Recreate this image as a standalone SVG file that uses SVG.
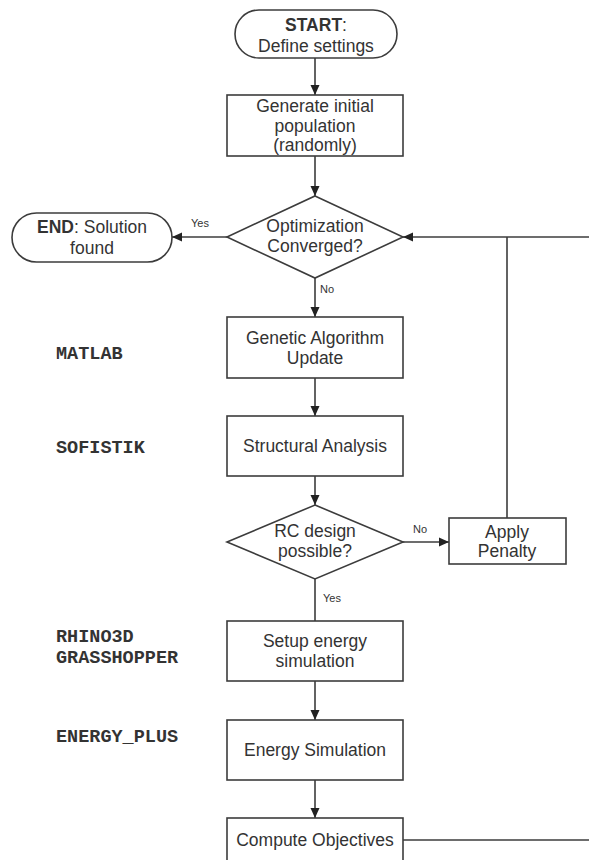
<svg xmlns="http://www.w3.org/2000/svg" width="589" height="860" viewBox="0 0 589 860">
  <style>
    .shape { fill: #ffffff; stroke: #3c3c3c; stroke-width: 1.6; }
    .wire { fill: none; stroke: #3c3c3c; stroke-width: 1.6; }
    .lbl { font-family: "Liberation Sans", Arial, Helvetica, sans-serif; font-size: 17.5px; fill: #333333; text-anchor: middle; }
    .b { font-weight: bold; }
    .tag { font-family: "Liberation Sans", Arial, sans-serif; font-size: 11px; fill: #333333; }
    .tool { font-family: "Liberation Mono", "Courier New", monospace; font-size: 18.5px; font-weight: bold; fill: #333333; }
  </style>
  <defs>
    <marker id="arrow" viewBox="0 0 10 10" refX="10" refY="5" markerWidth="10" markerHeight="10" markerUnits="userSpaceOnUse" orient="auto">
      <path d="M0,0.5 L10,5 L0,9.5 Z" fill="#222222"/>
    </marker>
  </defs>
  <rect width="589" height="860" fill="#ffffff"/>

  <!-- connectors -->
  <g id="connectors">
    <line class="wire" x1="315" y1="58" x2="315" y2="95" marker-end="url(#arrow)"/>
    <line class="wire" x1="315" y1="156" x2="315" y2="196" marker-end="url(#arrow)"/>
    <line class="wire" x1="227" y1="237" x2="172" y2="237" marker-end="url(#arrow)"/>
    <line class="wire" x1="315" y1="278" x2="315" y2="317" marker-end="url(#arrow)"/>
    <line class="wire" x1="315" y1="378" x2="315" y2="416" marker-end="url(#arrow)"/>
    <line class="wire" x1="315" y1="476" x2="315" y2="505" marker-end="url(#arrow)"/>
    <line class="wire" x1="403" y1="542" x2="449" y2="542" marker-end="url(#arrow)"/>
    <line class="wire" x1="507" y1="518" x2="507" y2="237"/>
    <line class="wire" x1="589" y1="237" x2="403" y2="237" marker-end="url(#arrow)"/>
    <line class="wire" x1="315" y1="579" x2="315" y2="621"/>
    <line class="wire" x1="315" y1="681" x2="315" y2="720" marker-end="url(#arrow)"/>
    <line class="wire" x1="315" y1="780" x2="315" y2="818" marker-end="url(#arrow)"/>
    <line class="wire" x1="403" y1="840" x2="589" y2="840"/>
    <text class="tag" x="191" y="227">Yes</text>
    <text class="tag" x="320" y="293">No</text>
    <text class="tag" x="413" y="533">No</text>
    <text class="tag" x="323" y="602">Yes</text>
  </g>

  <!-- software labels -->
  <g id="tools">
    <text class="tool" x="56" y="359">MATLAB</text>
    <text class="tool" x="56" y="453">SOFISTIK</text>
    <text class="tool" x="56" y="642">RHINO3D</text>
    <text class="tool" x="56" y="663">GRASSHOPPER</text>
    <text class="tool" x="56" y="742">ENERGY_PLUS</text>
  </g>

  <g id="start">
    <rect class="shape" x="235" y="10" width="162" height="48" rx="24" ry="24"/>
    <text class="lbl" x="316" y="31"><tspan class="b">START</tspan>:</text>
    <text class="lbl" x="316" y="52">Define settings</text>
  </g>

  <g id="init-population">
    <rect class="shape" x="227" y="95" width="176" height="61"/>
    <text class="lbl" x="315" y="112">Generate initial</text>
    <text class="lbl" x="315" y="132">population</text>
    <text class="lbl" x="315" y="151">(randomly)</text>
  </g>

  <g id="converged">
    <polygon class="shape" points="315,196 403,237 315,278 227,237"/>
    <text class="lbl" x="315" y="232">Optimization</text>
    <text class="lbl" x="315" y="252">Converged?</text>
  </g>

  <g id="end">
    <rect class="shape" x="12" y="213" width="160" height="49" rx="24.5" ry="24.5"/>
    <text class="lbl" x="92" y="233"><tspan class="b">END</tspan>:<tspan dx="5">Solution</tspan></text>
    <text class="lbl" x="92" y="254">found</text>
  </g>

  <g id="ga-update">
    <rect class="shape" x="227" y="317" width="176" height="61"/>
    <text class="lbl" x="315" y="344">Genetic Algorithm</text>
    <text class="lbl" x="315" y="364">Update</text>
  </g>

  <g id="structural-analysis">
    <rect class="shape" x="227" y="416" width="176" height="60"/>
    <text class="lbl" x="315" y="452">Structural Analysis</text>
  </g>

  <g id="rc-design">
    <polygon class="shape" points="315,505 403,542 315,579 227,542"/>
    <text class="lbl" x="315" y="537">RC design</text>
    <text class="lbl" x="315" y="557">possible?</text>
  </g>

  <g id="penalty">
    <rect class="shape" x="449" y="518" width="117" height="46"/>
    <text class="lbl" x="507" y="538">Apply</text>
    <text class="lbl" x="507" y="557">Penalty</text>
  </g>

  <g id="setup-energy">
    <rect class="shape" x="227" y="621" width="176" height="60"/>
    <text class="lbl" x="315" y="647">Setup energy</text>
    <text class="lbl" x="315" y="667">simulation</text>
  </g>

  <g id="energy-simulation">
    <rect class="shape" x="227" y="720" width="176" height="60"/>
    <text class="lbl" x="315" y="756">Energy Simulation</text>
  </g>

  <g id="objectives">
    <rect class="shape" x="227" y="818" width="176" height="60"/>
    <text class="lbl" x="315" y="846">Compute Objectives</text>
  </g>
</svg>
